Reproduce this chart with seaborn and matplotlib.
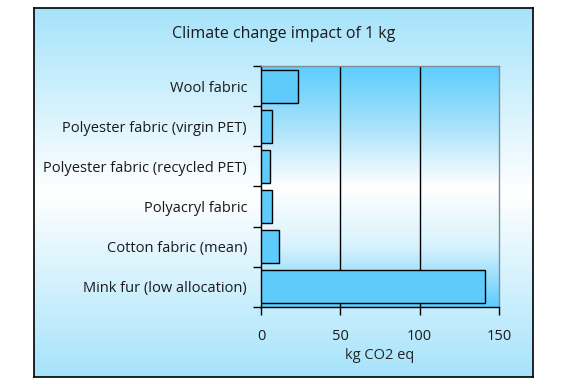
import numpy as np
import pandas as pd
import seaborn as sns
import matplotlib.pyplot as plt
from matplotlib.colors import LinearSegmentedColormap

categories = ['Wool fabric', 'Polyester fabric (virgin PET)', 'Polyester fabric (recycled PET)',
              'Polyacryl fabric', 'Cotton fabric (mean)', 'Mink fur (low allocation)']
values = [23.5, 6.7, 5.9, 6.7, 11.1, 141.3]
xticks = [0, 50, 100, 150]

df = pd.DataFrame({'Material': categories, 'CO2': values})

sns.set_style('white')
plt.rcParams['font.family'] = ['Open Sans', 'DejaVu Sans']
plt.rcParams['text.color'] = '#1a1a1a'
plt.rcParams['xtick.color'] = 'black'
plt.rcParams['ytick.color'] = 'black'
plt.rcParams['xtick.labelcolor'] = '#1a1a1a'
plt.rcParams['ytick.labelcolor'] = '#1a1a1a'

fig = plt.figure(figsize=(5.67, 3.88), dpi=100)

# outer frame with vertical gradient
bg = fig.add_axes([0.06, 0.0284, 0.88, 0.9506], zorder=0)
frame_cmap = LinearSegmentedColormap.from_list('frame', ['#a6e3fb', '#ffffff', '#a6e3fb'])
grad = np.linspace(0, 1, 256).reshape(-1, 1)
bg.imshow(grad, aspect='auto', cmap=frame_cmap, extent=[0, 1, 0, 1])
bg.set_xticks([])
bg.set_yticks([])
for s in bg.spines.values():
    s.set_color('black')
    s.set_linewidth(1.2)

ax = fig.add_axes([0.4603, 0.2088, 0.4198, 0.6211], zorder=1)
plot_cmap = LinearSegmentedColormap.from_list('plot', [(0, '#5ccdfd'), (0.22, '#9edffb'),
                                                        (0.5, '#ffffff'), (0.75, '#d8f2fd'),
                                                        (1, '#5ccdfd')])
ax.imshow(grad, aspect='auto', cmap=plot_cmap, extent=[0, 150, 5.5, -0.5], zorder=0)

sns.barplot(data=df, x='CO2', y='Material', orient='h', color='#5fcbfb', saturation=1,
            edgecolor='black', linewidth=1, width=0.82, ax=ax, zorder=3)

ax.set_xlim(0, 150)
ax.set_ylim(5.5, -0.5)
ax.set_xticks(xticks)
for v in [50, 100]:
    ax.axvline(v, color='black', linewidth=1, zorder=2)

ax.set_yticks(range(len(categories)))
ax.set_yticklabels(categories)
ax.set_yticks(np.arange(-0.5, 6, 1), minor=True)
ax.tick_params(axis='y', which='major', length=0, pad=10, labelsize=10.5)
ax.tick_params(axis='y', which='minor', length=6, width=1, direction='out', left=True)
ax.tick_params(axis='x', length=6, width=1, direction='out', bottom=True,
               pad=10, labelsize=10.5)

ax.spines['left'].set_color('black')
ax.spines['bottom'].set_color('black')
ax.spines['top'].set_color('#7f8f99')
ax.spines['right'].set_color('#7f8f99')
for s in ax.spines.values():
    s.set_linewidth(1)

ax.set_ylabel('')
ax.set_xlabel('kg CO2 eq', fontsize=10.5, labelpad=3)

fig.text(0.5, 0.913, 'Climate change impact of 1 kg', ha='center', va='center', fontsize=11.5)

fig.savefig('out.png', dpi=100)
